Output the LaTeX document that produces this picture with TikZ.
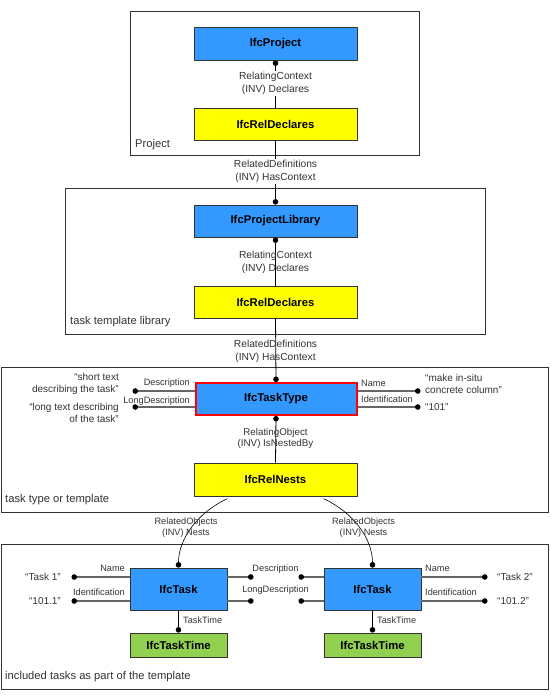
\documentclass[tikz,border=0pt]{standalone}
\usepackage{fontspec}
\setmainfont{Liberation Sans}
\usetikzlibrary{arrows.meta}
\definecolor{ifcblue}{HTML}{3399FF}
\definecolor{ifcyellow}{HTML}{FFFF00}
\definecolor{ifcgreen}{HTML}{92D050}
\definecolor{txtgray}{HTML}{333333}
\begin{document}
\begin{tikzpicture}[x=1pt,y=-1pt,
  frame/.style={draw=black!80, line width=1pt},
  ent/.style={draw=black!80, line width=0.8pt, font=\bfseries\fontsize{11.3}{13}\selectfont, inner sep=0pt},
  bigblue/.style={ent, fill=ifcblue, minimum width=163pt, minimum height=33pt},
  bigyellow/.style={ent, fill=ifcyellow, minimum width=163pt, minimum height=32pt},
  taskbox/.style={ent, fill=ifcblue, minimum width=97pt, minimum height=42pt},
  timebox/.style={ent, fill=ifcgreen, minimum width=97pt, minimum height=24pt},
  rel/.style={draw=black, line width=0.8pt},
  dotend/.style={-{Circle[length=5.5pt,color=black]}},
  dotstart/.style={{Circle[length=5.5pt,color=black]}-},
  attr/.style={draw=black!60, line width=1.5pt, -{Circle[length=5.5pt,color=black]}},
  lab/.style={font=\fontsize{10.25}{13}\selectfont, text=txtgray, inner sep=0pt, align=center},
  mask/.style={lab, fill=white, inner sep=1pt},
  small/.style={font=\fontsize{9.2}{11}\selectfont, text=txtgray, inner sep=0pt, align=center},
  quote/.style={font=\fontsize{10}{12}\selectfont, text=txtgray, inner sep=0pt},
  grp/.style={font=\fontsize{11.2}{13}\selectfont, text=txtgray, inner sep=0pt, anchor=west}
]
\useasboundingbox[fill=white] (0,0) rectangle (550,700);

% group frames
\draw[frame] (130,12) rectangle (419,156);
\draw[frame] (65,189) rectangle (485,334);
\draw[frame] (1,367) rectangle (548,512);
\draw[frame] (1,544) rectangle (548,689);
\node[grp] (gProj) at (135,145) {Project};
\node[grp] (gLib) at (70,322) {task template library};
\node[grp] (gType) at (5,500) {task type or template};
\node[grp] (gTasks) at (5,677) {included tasks as part of the template};

% entities
\node[bigblue] (proj) at (275.5,43.5) {IfcProject};
\node[bigyellow] (rd1) at (275.5,124) {IfcRelDeclares};
\node[bigblue, minimum height=32pt] (lib) at (275.5,221) {IfcProjectLibrary};
\node[bigyellow] (rd2) at (275.5,302) {IfcRelDeclares};
\node[ent, fill=ifcblue, draw=red, line width=2pt, minimum width=161pt, minimum height=32pt] (tt) at (276,399) {IfcTaskType};
\node[bigyellow, minimum height=33pt] (nests) at (275.5,479.5) {IfcRelNests};
\node[taskbox] (t1) at (178.5,589) {IfcTask};
\node[taskbox] (t2) at (372.5,589) {IfcTask};
\node[timebox] (tm1) at (178.5,645) {IfcTaskTime};
\node[timebox] (tm2) at (372.5,645) {IfcTaskTime};

% vertical relations
\draw[rel, dotstart] (proj.south) -- (rd1.north);
\node[mask] (l1) at (275.5,83.5) {RelatingContext\\(INV) Declares};
\draw[rel, dotend] (rd1.south) -- (lib.north);
\node[mask] (l2) at (275.5,171.5) {RelatedDefinitions\\(INV) HasContext};
\draw[rel, dotstart] (lib.south) -- (rd2.north);
\node[lab] (l3) at (275.5,262) {RelatingContext\\(INV) Declares};
\draw[rel, dotend] (rd2.south) -- (tt.north);
\node[lab] (l4) at (275.5,351) {RelatedDefinitions\\(INV) HasContext};
\draw[rel, dotstart] (tt.south) -- (nests.north);
\node[lab, font=\fontsize{9.8}{11.5}\selectfont] (l5) at (275.5,438.5) {RelatingObject\\(INV) IsNestedBy};

% nests arcs
\draw[rel, line width=0.6pt, dotstart] (t1.north) arc[start angle=180, end angle=240.3, x radius=97, y radius=79.4];
\draw[rel, line width=0.6pt, dotstart] (t2.north) arc[start angle=0, end angle=-60.3, x radius=97, y radius=79.4];
\node[small] (l6) at (186,527.5) {RelatedObjects\\(INV) Nests};
\node[small] (l7) at (363.5,527.5) {RelatedObjects\\(INV) Nests};

% task type attributes
\coordinate (dD) at (132.5,391);
\coordinate (dL) at (132.5,407);
\coordinate (dN) at (420.5,391);
\coordinate (dI) at (420.5,407);
\draw[attr] (tt.west |- dD) -- (dD);
\draw[attr] (tt.west |- dL) -- (dL);
\draw[attr] (tt.east |- dN) -- (dN);
\draw[attr] (tt.east |- dI) -- (dI);
\node[small, anchor=east] (aD) at (190,383) {Description};
\node[small, anchor=east] (aL) at (190,401) {LongDescription};
\node[small, anchor=west] (aN) at (361,383) {Name};
\node[small, anchor=west] (aI) at (361,399) {Identification};
\node[quote, anchor=east, align=right] (qD) at (119,384) {“short text\\describing the task”};
\node[quote, anchor=east, align=right] (qL) at (119,413) {“long text describing\\of the task”};
\node[quote, anchor=west, align=left] (qN) at (425,384) {“make in-situ\\concrete column”};
\node[quote, anchor=west] (qI) at (425,407) {“101”};

% task 1 attributes
\coordinate (t1N) at (71.5,577);
\coordinate (t1I) at (71.5,601);
\coordinate (t1D) at (253.5,577);
\coordinate (t1L) at (253.5,601);
\draw[attr] (t1.west |- t1N) -- (t1N);
\draw[attr] (t1.west |- t1I) -- (t1I);
\draw[attr] (t1.east |- t1D) -- (t1D);
\draw[attr] (t1.east |- t1L) -- (t1L);
\node[small, anchor=east] (a1N) at (125,568) {Name};
\node[small, anchor=east] (a1I) at (125,592) {Identification};
\node[quote, anchor=east] (q1N) at (61,577) {“Task 1”};
\node[quote, anchor=east] (q1I) at (61,601) {“101.1”};

% task 2 attributes
\coordinate (t2D) at (298.5,577);
\coordinate (t2L) at (298.5,601);
\coordinate (t2N) at (487.5,577);
\coordinate (t2I) at (487.5,601);
\draw[attr] (t2.west |- t2D) -- (t2D);
\draw[attr] (t2.west |- t2L) -- (t2L);
\draw[attr] (t2.east |- t2N) -- (t2N);
\draw[attr] (t2.east |- t2I) -- (t2I);
\node[small] (aMD) at (275.5,569) {Description};
\node[small] (aML) at (275.5,590) {LongDescription};
\node[small, anchor=west] (a2N) at (425,568) {Name};
\node[small, anchor=west] (a2I) at (425,592) {Identification};
\node[quote, anchor=west] (q2N) at (497,577) {“Task 2”};
\node[quote, anchor=west] (q2I) at (497,601) {“101.2”};

% task times
\draw[rel, dotend] (t1.south) -- (tm1.north);
\draw[rel, dotend] (t2.south) -- (tm2.north);
\node[small, anchor=west] (tt1) at (183,620) {TaskTime};
\node[small, anchor=west] (tt2) at (377,620) {TaskTime};
\end{tikzpicture}
\end{document}
